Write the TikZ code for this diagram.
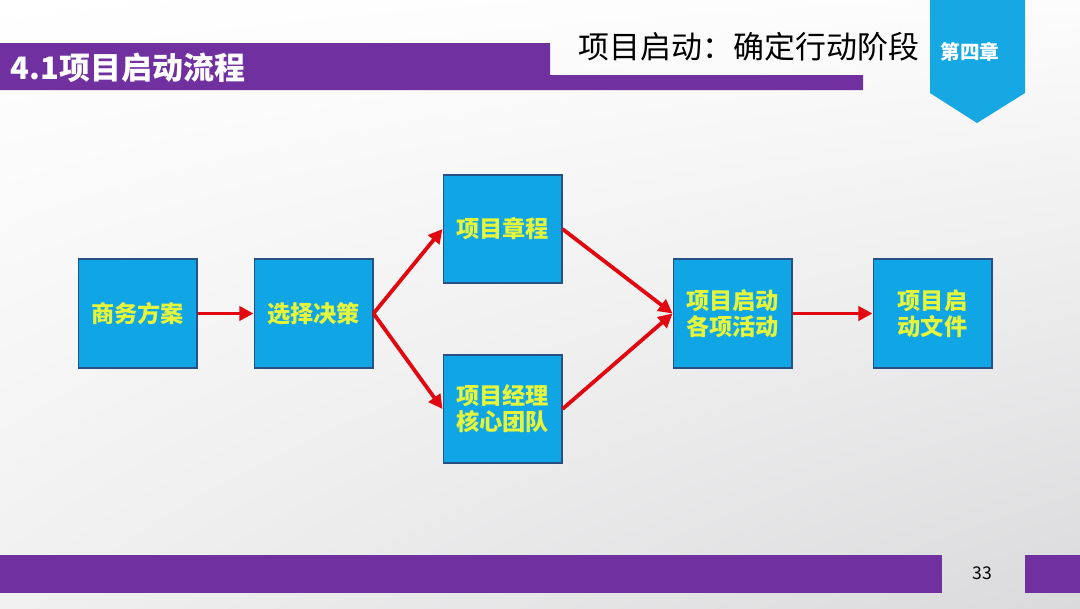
\documentclass[tikz,border=0pt]{standalone}
\usepackage{fontspec}
\setmainfont{Noto Sans CJK SC}
\usepackage{xcolor}
\usetikzlibrary{arrows.meta,positioning,shadings}
\definecolor{pptpurple}{RGB}{112,48,160}
\definecolor{chevblue}{RGB}{22,168,226}
\definecolor{boxblue}{RGB}{16,165,228}
\definecolor{boxedge}{RGB}{40,80,130}
\definecolor{boxtext}{RGB}{228,245,60}
\definecolor{arrowred}{RGB}{226,8,16}
\definecolor{bggray}{RGB}{218,218,220}

\begin{document}
\begin{tikzpicture}[x=0.025cm, y=-0.025cm,
    box/.style={rectangle, draw=boxedge, line width=1.4pt, fill=boxblue, minimum width=2.95cm, minimum height=2.72cm, inner sep=0pt, align=center, text=boxtext, font=\bfseries\fontsize{16.5}{18.5}\selectfont},
    arrow/.style={-{Triangle[length=10pt, width=10pt]}, line width=2.7pt, draw=arrowred}
]
\useasboundingbox (0,0) rectangle (1080,608);

% Slide background and frame
\shade[upper left=white, upper right=white!92!bggray, lower left=white!60!bggray, lower right=bggray] (0,0) rectangle (1080,608);
\fill[pptpurple] (0,43) -- (550,43) -- (550,75) -- (863,75) -- (863,90) -- (0,90) -- cycle;
\fill[chevblue] (930,0) -- (1025,0) -- (1025,93) -- (977,123) -- (930,93) -- cycle;
\fill[pptpurple] (0,555) rectangle (942,593);
\fill[pptpurple] (1025,555) rectangle (1080,593);

\node[anchor=west, text=white, font=\bfseries\fontsize{22}{26}\selectfont] (section) at (6,68) {4.1项目启动流程};
\node[anchor=west, font=\fontsize{22}{26}\selectfont] (title) at (574,47) {项目启动：确定行动阶段};
\node[text=white, font=\bfseries\fontsize{14}{16}\selectfont] (chapter) at (970,52) {第四章};
\node[font=\fontsize{12.5}{14}\selectfont] (page) at (982,573) {33};

% Process steps
\node[box] (business) at (137.5,313.5) {商务方案};
\node[box] (decision) at (313.5,313.5) {选择决策};
\node[box] (charter) at (502.5,229) {项目章程};
\node[box] (team) at (502.5,409) {项目经理\\核心团队};
\node[box] (activity) at (732.5,313.5) {项目启动\\各项活动};
\node[box] (document) at (932.5,313.5) {项目启\\动文件};

\draw[arrow] (business.east) -- (decision.west);
\draw[arrow] (decision.east) -- (charter.west);
\draw[arrow] (decision.east) -- (team.west);
\draw[arrow] (charter.east) -- (activity.west);
\draw[arrow] (team.east) -- (activity.west);
\draw[arrow] (activity.east) -- (document.west);

\end{tikzpicture}
\end{document}
